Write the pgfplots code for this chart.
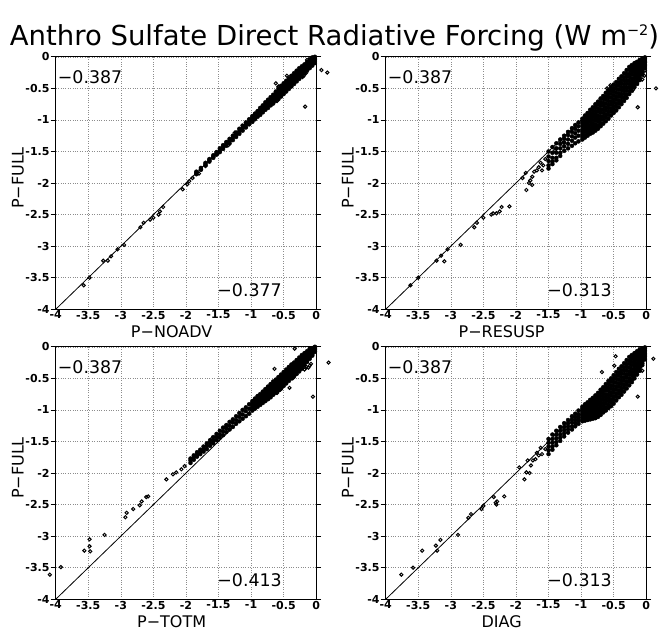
\documentclass[border=0pt]{standalone}
\usepackage{pgfplots}
\pgfplotsset{compat=1.18}
\usepackage{pgfplotstable}
\usepackage{fontspec}
\setmainfont{DejaVu Sans}

% ---------------- Panel 1 : P-NOADV ----------------
\pgfplotstableread{
x a b c d e
-0.02 0.00 -0.02 -0.04 -0.07 -0.10
-0.06 -0.01 -0.04 -0.07 -0.10 -0.14
-0.10 -0.04 -0.08 -0.11 -0.14 -0.18
-0.14 -0.08 -0.11 -0.15 -0.18 -0.22
-0.18 -0.12 -0.15 -0.19 -0.22 -0.26
-0.22 -0.15 -0.19 -0.23 -0.27 -0.31
-0.26 -0.18 -0.22 -0.26 -0.30 -0.35
-0.30 -0.22 -0.26 -0.30 -0.34 -0.39
-0.34 -0.26 -0.30 -0.34 -0.38 -0.43
-0.38 -0.30 -0.34 -0.38 -0.42 -0.47
-0.42 -0.34 -0.38 -0.42 -0.46 -0.51
-0.46 -0.38 -0.42 -0.46 -0.50 -0.55
-0.50 -0.42 -0.46 -0.50 -0.54 -0.59
-0.54 -0.46 -0.50 -0.54 -0.58 -0.63
-0.58 -0.50 -0.54 -0.58 -0.62 -0.67
-0.62 -0.55 -0.59 -0.62 -0.66 -0.70
-0.66 -0.60 -0.63 -0.66 -0.70 -0.74
-0.70 -0.64 -0.67 -0.70 -0.73 -0.77
-0.74 -0.68 -0.71 -0.74 -0.77 -0.81
-0.78 -0.72 -0.75 -0.78 -0.81 -0.84
-0.82 -0.77 -0.80 -0.82 -0.85 -0.88
-0.86 -0.81 -0.84 -0.86 -0.89 -0.92
-0.90 -0.86 -0.88 -0.90 -0.93 -0.95
-0.94 -0.90 -0.92 -0.94 -0.97 -0.99
-0.98 -0.94 -0.96 -0.98 -1.00 -1.03
}\bandOneA
\pgfplotstableread{
x a b c
-1.03 -0.99 -1.03 -1.07
-1.08 -1.04 -1.08 -1.12
-1.13 -1.09 -1.13 -1.17
-1.18 -1.14 -1.18 -1.22
-1.23 -1.20 -1.23 -1.27
-1.28 -1.25 -1.28 -1.32
-1.33 -1.30 -1.33 -1.37
-1.38 -1.35 -1.38 -1.41
-1.43 -1.40 -1.43 -1.46
-1.48 -1.45 -1.48 -1.51
-1.53 -1.51 -1.53 -1.55
-1.58 -1.56 -1.58 -1.60
-1.64 -1.62 -1.64 -1.66
-1.70 -1.68 -1.70 -1.72
-1.77 -1.76 -1.78 -1.79
-1.84 -1.82 -1.84 -1.86
}\bandOneB
\pgfplotstableread{
x y
0.08 -0.21
0.17 -0.25
-0.17 -0.79
-0.19 -0.30
-0.21 -0.32
-0.16 -0.26
-0.62 -0.42
-0.58 -0.47
-0.45 -0.30
-0.40 -0.42
-0.25 -0.22
-0.14 -0.05
-0.60 -0.70
-0.70 -0.76
-1.25 -1.20
-1.35 -1.40
-1.50 -1.52
-1.70 -1.73
-1.80 -1.85
-1.90 -1.92
-1.95 -1.97
-1.98 -2.02
-2.05 -2.10
-2.35 -2.38
-2.40 -2.45
-2.42 -2.50
-2.50 -2.55
-2.55 -2.58
-2.65 -2.63
-2.70 -2.70
-2.95 -2.98
-3.05 -3.05
-3.15 -3.16
-3.20 -3.23
-3.27 -3.23
-3.48 -3.50
-3.57 -3.62
}\sparseOne

% ---------------- Panel 2 : P-RESUSP ----------------
\pgfplotstableread{
x a b c d e f g h i
-0.02 -0.01 -0.03 -0.05 -0.07 -0.09 -0.12 -0.14 -0.16 -0.18
-0.06 -0.03 -0.06 -0.09 -0.12 -0.16 -0.19 -0.22 -0.25 -0.28
-0.10 -0.05 -0.09 -0.13 -0.17 -0.21 -0.25 -0.29 -0.33 -0.37
-0.14 -0.08 -0.12 -0.17 -0.21 -0.26 -0.30 -0.34 -0.39 -0.43
-0.18 -0.10 -0.15 -0.20 -0.24 -0.29 -0.34 -0.39 -0.43 -0.48
-0.22 -0.13 -0.18 -0.23 -0.28 -0.34 -0.39 -0.44 -0.49 -0.54
-0.26 -0.16 -0.21 -0.27 -0.32 -0.38 -0.43 -0.48 -0.54 -0.59
-0.30 -0.21 -0.27 -0.32 -0.38 -0.43 -0.49 -0.54 -0.60 -0.65
-0.34 -0.26 -0.32 -0.37 -0.43 -0.48 -0.54 -0.59 -0.65 -0.70
-0.38 -0.31 -0.37 -0.42 -0.48 -0.53 -0.59 -0.64 -0.70 -0.75
-0.42 -0.35 -0.41 -0.46 -0.52 -0.58 -0.63 -0.69 -0.74 -0.80
-0.46 -0.40 -0.46 -0.51 -0.57 -0.63 -0.68 -0.74 -0.79 -0.85
-0.50 -0.44 -0.50 -0.55 -0.61 -0.67 -0.72 -0.78 -0.83 -0.89
-0.54 -0.48 -0.54 -0.59 -0.65 -0.71 -0.76 -0.82 -0.87 -0.93
-0.58 -0.53 -0.59 -0.64 -0.70 -0.76 -0.81 -0.87 -0.92 -0.98
-0.62 -0.57 -0.63 -0.68 -0.74 -0.80 -0.85 -0.91 -0.96 -1.02
-0.66 -0.62 -0.67 -0.73 -0.78 -0.84 -0.89 -0.95 -1.00 -1.06
-0.70 -0.66 -0.72 -0.77 -0.83 -0.88 -0.94 -0.99 -1.05 -1.10
-0.74 -0.71 -0.76 -0.82 -0.87 -0.93 -0.98 -1.03 -1.09 -1.14
-0.78 -0.75 -0.80 -0.86 -0.91 -0.96 -1.01 -1.07 -1.12 -1.17
-0.82 -0.80 -0.85 -0.90 -0.95 -1.00 -1.05 -1.10 -1.15 -1.20
-0.86 -0.84 -0.89 -0.93 -0.98 -1.03 -1.08 -1.13 -1.17 -1.22
-0.90 -0.89 -0.93 -0.98 -1.02 -1.07 -1.11 -1.16 -1.20 -1.25
-0.94 -0.93 -0.97 -1.02 -1.06 -1.11 -1.15 -1.19 -1.24 -1.28
-0.98 -0.98 -1.02 -1.06 -1.10 -1.15 -1.19 -1.23 -1.27 -1.31
}\bandTwoA
\pgfplotstableread{
x a b c d e
-1.04 -1.04 -1.10 -1.17 -1.25 -1.34
-1.09 -1.08 -1.14 -1.21 -1.28 -1.37
-1.14 -1.13 -1.19 -1.26 -1.33 -1.41
-1.20 -1.19 -1.24 -1.31 -1.38 -1.45
-1.26 -1.25 -1.30 -1.36 -1.42 -1.49
-1.32 -1.31 -1.38 -1.45 -1.52 -1.57
-1.38 -1.37 -1.45 -1.52 -1.60 -1.64
-1.44 -1.43 -1.52 -1.60 -1.66 -1.70
-1.50 -1.50 -1.58 -1.65 -1.72 -1.77
}\bandTwoB
\pgfplotstableread{
x y
0.15 -0.50
-0.13 -0.80
-0.03 -0.30
-0.02 -0.22
-0.06 -0.36
-0.22 -0.48
-0.60 -0.50
-0.55 -0.45
-0.20 -0.52
-1.30 -1.35
-1.40 -1.48
-1.55 -1.62
-1.58 -1.72
-1.62 -1.68
-1.65 -1.75
-1.68 -1.80
-1.72 -1.82
-1.60 -1.80
-1.75 -1.90
-1.78 -1.96
-1.80 -2.00
-1.75 -2.03
-1.84 -2.11
-1.85 -1.84
-1.90 -1.92
-2.10 -2.37
-2.22 -2.38
-2.25 -2.45
-2.30 -2.48
-2.35 -2.48
-2.38 -2.50
-2.50 -2.55
-2.60 -2.63
-2.64 -2.70
-2.85 -2.98
-3.05 -3.05
-3.15 -3.15
-3.10 -3.24
-3.22 -3.23
-3.50 -3.50
-3.62 -3.62
}\sparseTwo

% ---------------- Panel 3 : P-TOTM ----------------
\pgfplotstableread{
x a b c d e f g
-0.02 0.00 -0.01 -0.03 -0.04 -0.05 -0.07 -0.08
-0.06 -0.02 -0.04 -0.06 -0.08 -0.10 -0.12 -0.14
-0.10 -0.03 -0.06 -0.08 -0.11 -0.14 -0.16 -0.19
-0.14 -0.07 -0.10 -0.12 -0.15 -0.18 -0.21 -0.24
-0.18 -0.10 -0.13 -0.16 -0.20 -0.23 -0.26 -0.29
-0.22 -0.13 -0.17 -0.20 -0.24 -0.27 -0.31 -0.34
-0.26 -0.17 -0.21 -0.24 -0.28 -0.32 -0.35 -0.39
-0.30 -0.21 -0.25 -0.28 -0.32 -0.36 -0.39 -0.43
-0.34 -0.25 -0.29 -0.32 -0.36 -0.40 -0.43 -0.47
-0.38 -0.28 -0.32 -0.35 -0.39 -0.43 -0.46 -0.50
-0.42 -0.32 -0.36 -0.39 -0.43 -0.47 -0.50 -0.54
-0.46 -0.36 -0.40 -0.43 -0.47 -0.51 -0.54 -0.58
-0.50 -0.40 -0.44 -0.47 -0.51 -0.55 -0.58 -0.62
-0.54 -0.44 -0.48 -0.51 -0.55 -0.58 -0.62 -0.66
-0.58 -0.48 -0.52 -0.55 -0.59 -0.62 -0.66 -0.69
-0.62 -0.52 -0.56 -0.59 -0.63 -0.66 -0.70 -0.73
-0.66 -0.55 -0.59 -0.62 -0.66 -0.69 -0.73 -0.76
-0.70 -0.59 -0.63 -0.66 -0.70 -0.73 -0.77 -0.80
-0.74 -0.63 -0.66 -0.70 -0.73 -0.76 -0.80 -0.83
-0.78 -0.67 -0.70 -0.73 -0.77 -0.80 -0.83 -0.86
-0.82 -0.71 -0.74 -0.77 -0.80 -0.83 -0.86 -0.89
-0.86 -0.75 -0.78 -0.81 -0.84 -0.86 -0.89 -0.92
-0.90 -0.78 -0.81 -0.84 -0.87 -0.89 -0.92 -0.95
-0.94 -0.82 -0.85 -0.87 -0.90 -0.93 -0.95 -0.98
-0.98 -0.86 -0.89 -0.91 -0.94 -0.96 -0.99 -1.01
}\bandThreeA
\pgfplotstableread{
x a b c
-1.03 -0.91 -0.98 -1.06
-1.08 -0.96 -1.02 -1.10
-1.13 -1.00 -1.07 -1.14
-1.18 -1.05 -1.11 -1.18
-1.23 -1.10 -1.16 -1.22
-1.28 -1.15 -1.20 -1.27
-1.33 -1.19 -1.25 -1.31
-1.38 -1.24 -1.29 -1.35
-1.43 -1.28 -1.34 -1.40
-1.48 -1.33 -1.39 -1.44
-1.53 -1.38 -1.43 -1.48
-1.58 -1.43 -1.48 -1.53
-1.63 -1.48 -1.52 -1.57
-1.68 -1.53 -1.57 -1.62
-1.73 -1.58 -1.62 -1.66
-1.78 -1.63 -1.66 -1.70
-1.83 -1.67 -1.71 -1.74
-1.88 -1.72 -1.75 -1.79
-1.93 -1.77 -1.80 -1.84
}\bandThreeB
\pgfplotstableread{
x y
0.19 -0.25
-0.05 -0.79
-0.33 -0.03
-0.64 -0.35
-0.41 -0.40
-0.15 -0.32
-0.12 -0.33
-0.10 -0.30
-0.08 -0.27
-0.41 -0.65
-0.36 -0.50
-0.22 -0.35
-0.18 -0.36
-0.60 -0.73
-0.55 -0.68
-1.40 -1.28
-1.60 -1.45
-2.02 -1.89
-2.07 -1.94
-2.15 -1.99
-2.20 -2.02
-2.30 -2.10
-2.58 -2.37
-2.61 -2.38
-2.68 -2.45
-2.71 -2.51
-2.81 -2.57
-2.91 -2.63
-2.93 -2.70
-3.25 -2.98
-3.47 -3.24
-3.48 -3.05
-3.48 -3.16
-3.56 -3.23
-3.92 -3.49
-4.09 -3.61
}\sparseThree

% ---------------- Panel 4 : DIAG ----------------
\pgfplotstableread{
x a b c d e f g h i
-0.02 -0.01 -0.03 -0.06 -0.08 -0.11 -0.13 -0.15 -0.18 -0.20
-0.06 -0.03 -0.06 -0.09 -0.13 -0.16 -0.19 -0.23 -0.26 -0.29
-0.10 -0.04 -0.08 -0.13 -0.17 -0.21 -0.25 -0.30 -0.34 -0.38
-0.14 -0.07 -0.12 -0.16 -0.21 -0.26 -0.30 -0.35 -0.39 -0.44
-0.18 -0.10 -0.15 -0.20 -0.25 -0.30 -0.35 -0.40 -0.45 -0.50
-0.22 -0.13 -0.18 -0.24 -0.29 -0.35 -0.40 -0.45 -0.51 -0.56
-0.26 -0.16 -0.22 -0.27 -0.33 -0.39 -0.44 -0.50 -0.55 -0.61
-0.30 -0.21 -0.27 -0.32 -0.38 -0.44 -0.49 -0.55 -0.60 -0.66
-0.34 -0.26 -0.32 -0.37 -0.43 -0.49 -0.54 -0.60 -0.65 -0.71
-0.38 -0.31 -0.37 -0.42 -0.48 -0.54 -0.59 -0.65 -0.70 -0.76
-0.42 -0.35 -0.41 -0.46 -0.52 -0.58 -0.63 -0.69 -0.74 -0.80
-0.46 -0.40 -0.46 -0.51 -0.57 -0.63 -0.68 -0.74 -0.79 -0.85
-0.50 -0.45 -0.51 -0.56 -0.62 -0.68 -0.73 -0.79 -0.84 -0.90
-0.54 -0.50 -0.55 -0.61 -0.66 -0.72 -0.77 -0.83 -0.88 -0.94
-0.58 -0.54 -0.59 -0.65 -0.70 -0.76 -0.81 -0.86 -0.92 -0.97
-0.62 -0.59 -0.64 -0.69 -0.75 -0.80 -0.85 -0.90 -0.96 -1.01
-0.66 -0.64 -0.69 -0.74 -0.79 -0.84 -0.89 -0.94 -0.99 -1.04
-0.70 -0.68 -0.73 -0.78 -0.83 -0.88 -0.93 -0.98 -1.03 -1.08
-0.74 -0.73 -0.78 -0.82 -0.87 -0.92 -0.97 -1.01 -1.06 -1.11
-0.78 -0.77 -0.81 -0.86 -0.90 -0.95 -0.99 -1.04 -1.08 -1.13
-0.82 -0.81 -0.85 -0.89 -0.93 -0.98 -1.02 -1.06 -1.10 -1.14
-0.86 -0.84 -0.88 -0.92 -0.96 -1.00 -1.03 -1.07 -1.11 -1.15
-0.90 -0.88 -0.92 -0.95 -0.99 -1.02 -1.06 -1.09 -1.13 -1.16
-0.94 -0.91 -0.94 -0.98 -1.01 -1.04 -1.07 -1.11 -1.14 -1.17
-0.98 -0.95 -0.98 -1.01 -1.04 -1.07 -1.09 -1.12 -1.15 -1.18
}\bandFourA
\pgfplotstableread{
x a b c d e
-1.04 -1.01 -1.07 -1.12 -1.17 -1.22
-1.09 -1.06 -1.11 -1.16 -1.21 -1.26
-1.14 -1.10 -1.15 -1.20 -1.26 -1.31
-1.20 -1.16 -1.21 -1.26 -1.31 -1.36
-1.26 -1.21 -1.27 -1.32 -1.37 -1.42
-1.32 -1.27 -1.33 -1.39 -1.44 -1.49
-1.38 -1.33 -1.39 -1.45 -1.51 -1.56
-1.44 -1.39 -1.46 -1.52 -1.58 -1.63
-1.50 -1.46 -1.52 -1.58 -1.64 -1.70
}\bandFourB
\pgfplotstableread{
x y
0.11 -0.19
-0.13 -0.79
-0.68 -0.40
-0.47 -0.15
-0.49 -0.30
-0.12 -0.08
-0.09 -0.32
-0.06 -0.38
-0.20 -0.51
-1.55 -1.62
-1.60 -1.70
-1.65 -1.72
-1.70 -1.78
-1.62 -1.60
-1.68 -1.68
-1.74 -1.80
-1.77 -1.88
-1.79 -2.00
-1.82 -1.80
-1.84 -1.99
-1.87 -2.10
-1.95 -1.91
-2.18 -2.37
-2.29 -2.45
-2.30 -2.50
-2.31 -2.47
-2.34 -2.38
-2.50 -2.52
-2.53 -2.57
-2.69 -2.65
-2.73 -2.71
-2.89 -2.98
-3.16 -3.06
-3.21 -3.23
-3.23 -3.15
-3.44 -3.23
-3.58 -3.50
-3.76 -3.61
}\sparseFour

\pgfplotsset{
  panel/.style={
    scale only axis, width=260.5pt, height=252.5pt, anchor=south west,
    xmin=-4, xmax=0, ymin=-4, ymax=0,
    xtick={-4,-3.5,-3,-2.5,-2,-1.5,-1,-0.5,0},
    ytick={-4,-3.5,-3,-2.5,-2,-1.5,-1,-0.5,0},
    xticklabels={-4,-3.5,-3,-2.5,-2,-1.5,-1,-0.5,0},
    yticklabels={-4,-3.5,-3,-2.5,-2,-1.5,-1,-0.5,0},
    grid=major, major grid style={dotted, black!45, line width=0.5pt},
    tick align=outside, major tick length=5pt,
    xtick style={draw=none}, ytick style={black, line width=0.7pt},
    axis line style={black, line width=0.8pt},
    tick label style={font=\fontsize{11}{11}\selectfont\bfseries},
    xticklabel style={inner sep=0pt, anchor=north, yshift=3.6pt},
    yticklabel style={inner sep=1pt, anchor=east},
    clip=false,
    xlabel style={at={(axis description cs:0.445,-0.1129)}, anchor=base, font=\fontsize{16}{16}\selectfont, inner sep=0pt},
    ylabel style={at={(axis description cs:-0.1228,0.52)}, anchor=base, font=\fontsize{16}{16}\selectfont, inner sep=0pt},
    ylabel={P−FULL},
  },
  band/.style={only marks, mark=*, mark size=2.0pt, mark options={black, fill=black, line width=0.4pt}},
  dot/.style={only marks, mark=o, mark size=1.6pt, mark options={black, line width=1.0pt}},
  one/.style={black, line width=0.8pt},
}
\newcommand{\anno}[2]{%
  \node[anchor=base west, inner sep=0pt, font=\fontsize{17.4}{17.4}\selectfont] at (axis cs:-3.97,-0.417) {−0.387};
  \node[anchor=base west, inner sep=0pt, font=\fontsize{17.4}{17.4}\selectfont] at (axis cs:-1.52,-3.80) {#1};
}

\begin{document}
\begin{tikzpicture}
\useasboundingbox (0,0) rectangle (663pt,631pt);
\node[anchor=base, inner sep=0pt, font=\fontsize{27.5}{27.5}\selectfont] at (334.5pt,585pt)
  {Anthro Sulfate Direct Radiative Forcing (W m\raisebox{10.5pt}{\fontsize{14.5}{14.5}\selectfont −2})};

% Panel 1
\begin{axis}[panel, at={(55.7pt,321.7pt)}, xlabel={P−NOADV}]
  \addplot[one] coordinates {(-4,-4) (0,0)};
  \pgfplotsinvokeforeach{a,b,c,d,e}{\addplot[band] table[x=x,y=#1]{\bandOneA};}
  \pgfplotsinvokeforeach{a,b,c}{\addplot[band] table[x=x,y=#1]{\bandOneB};}
  \addplot[dot] table[x=x,y=y]{\sparseOne};
  \anno{−0.377}{}
\end{axis}

% Panel 2
\begin{axis}[panel, at={(385.7pt,321.7pt)}, xlabel={P−RESUSP}]
  \addplot[one] coordinates {(-4,-4) (0,0)};
  \pgfplotsinvokeforeach{a,b,c,d,e,f,g,h,i}{\addplot[band] table[x=x,y=#1]{\bandTwoA};}
  \pgfplotsinvokeforeach{a,b,c,d,e}{\addplot[band] table[x=x,y=#1]{\bandTwoB};}
  \addplot[dot] table[x=x,y=y]{\sparseTwo};
  \anno{−0.313}{}
\end{axis}

% Panel 3
\begin{axis}[panel, at={(55.7pt,31.7pt)}, xlabel={P−TOTM}]
  \addplot[one] coordinates {(-4,-4) (0,0)};
  \pgfplotsinvokeforeach{a,b,c,d,e,f,g}{\addplot[band] table[x=x,y=#1]{\bandThreeA};}
  \pgfplotsinvokeforeach{a,b,c}{\addplot[band] table[x=x,y=#1]{\bandThreeB};}
  \addplot[dot] table[x=x,y=y]{\sparseThree};
  \anno{−0.413}{}
\end{axis}

% Panel 4
\begin{axis}[panel, at={(385.7pt,31.7pt)}, xlabel={DIAG}]
  \addplot[one] coordinates {(-4,-4) (0,0)};
  \pgfplotsinvokeforeach{a,b,c,d,e,f,g,h,i}{\addplot[band] table[x=x,y=#1]{\bandFourA};}
  \pgfplotsinvokeforeach{a,b,c,d,e}{\addplot[band] table[x=x,y=#1]{\bandFourB};}
  \addplot[dot] table[x=x,y=y]{\sparseFour};
  \anno{−0.313}{}
\end{axis}
\end{tikzpicture}
\end{document}
